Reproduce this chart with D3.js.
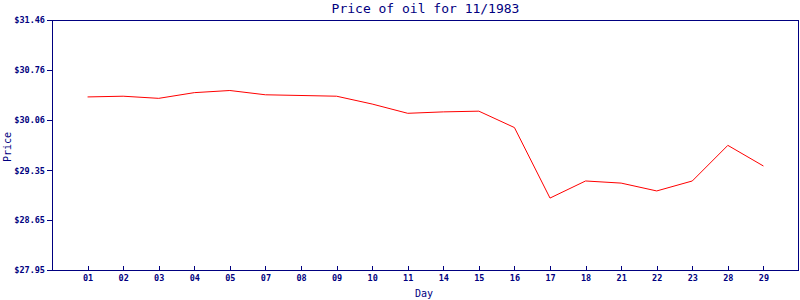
<!DOCTYPE html>
<html>
<head>
<meta charset="utf-8">
<script src="https://cdnjs.cloudflare.com/ajax/libs/d3/7.8.5/d3.min.js"></script>
<style>
  body { margin: 0; background: #fff; }
  svg { display: block; }
  text { font-family: "DejaVu Sans Mono", monospace; fill: #000080; }
</style>
</head>
<body>
<div id="root"></div>
<script>
const width = 800;
const height = 300;
const margin = { top: 20, right: 1, bottom: 30, left: 52 };

const days = ["01", "02", "03", "04", "05", "07", "08", "09", "10", "11",
  "14", "15", "16", "17", "18", "21", "22", "23", "28", "29"];
const prices = [30.38, 30.39, 30.36, 30.44, 30.47, 30.41, 30.40, 30.39, 30.28, 30.15,
  30.17, 30.18, 29.95, 28.96, 29.20, 29.17, 29.06, 29.20, 29.70, 29.41];
const yTicks = [27.95, 28.65, 29.35, 30.06, 30.76, 31.46];

const navy = "#000080";

let svg = d3
  .select("#root")
  .append("svg")
  .attr("width", width)
  .attr("height", height);

let xScale = d3
  .scalePoint()
  .domain(days)
  .range([margin.left, width - margin.right])
  .padding(1);

let yScale = d3
  .scaleLinear()
  .domain([27.95, 31.46])
  .range([height - margin.bottom, margin.top]);

// frame
svg
  .append("rect")
  .attr("x", margin.left + 0.5)
  .attr("y", margin.top + 0.5)
  .attr("width", width - margin.right - margin.left - 1)
  .attr("height", height - margin.bottom - margin.top)
  .attr("fill", "none")
  .attr("stroke", navy)
  .attr("shape-rendering", "crispEdges");

let yAxis = d3
  .axisLeft(yScale)
  .tickValues(yTicks)
  .tickSize(5)
  .tickPadding(2)
  .tickFormat((d) => "$" + d3.format(".2f")(d));

let gy = svg
  .append("g")
  .attr("transform", "translate(" + margin.left + ",0)")
  .call(yAxis);
gy.select(".domain").remove();
gy.selectAll("line").attr("stroke", navy).attr("shape-rendering", "crispEdges");
gy.selectAll("text")
  .style("font-size", "8.5px")
  .style("font-weight", "bold")
  .attr("fill", navy);

let xAxis = d3.axisBottom(xScale).tickSize(-4).tickPadding(5);

let gx = svg
  .append("g")
  .attr("transform", "translate(0," + (height - margin.bottom) + ")")
  .call(xAxis);
gx.select(".domain").remove();
gx.selectAll("line").attr("stroke", navy).attr("shape-rendering", "crispEdges");
gx.selectAll("text")
  .style("font-size", "8.5px")
  .style("font-weight", "bold")
  .attr("fill", navy);

let line = d3
  .line()
  .x((d, i) => xScale(days[i]))
  .y((d) => yScale(d));

svg
  .append("path")
  .datum(prices)
  .attr("d", line)
  .attr("fill", "none")
  .attr("stroke", "#ff0000")
  .attr("stroke-width", 1);

svg
  .append("text")
  .attr("x", (margin.left + width - margin.right) / 2)
  .attr("y", 13)
  .attr("text-anchor", "middle")
  .style("font-size", "13px")
  .text("Price of oil for 11/1983");

svg
  .append("text")
  .attr("x", 424)
  .attr("y", 297)
  .attr("text-anchor", "middle")
  .style("font-size", "10px")
  .text("Day");

svg
  .append("text")
  .attr("transform", "rotate(-90)")
  .attr("x", -147)
  .attr("y", 11)
  .attr("text-anchor", "middle")
  .style("font-size", "10px")
  .text("Price");
</script>
</body>
</html>
